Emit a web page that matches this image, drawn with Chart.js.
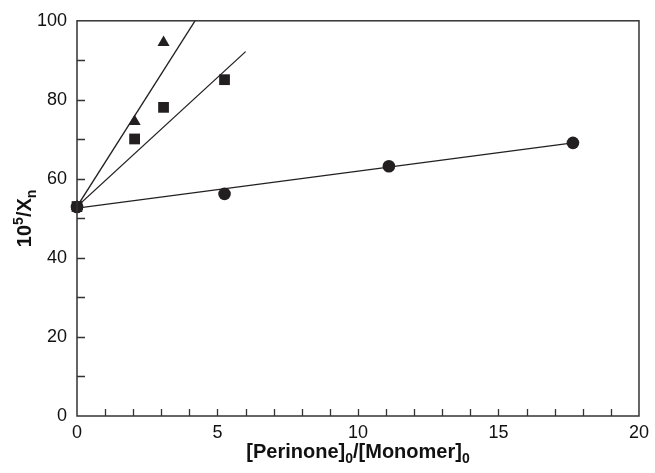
<!DOCTYPE html>
<html>
<head>
<meta charset="utf-8">
<script src="https://cdn.jsdelivr.net/npm/chart.js@4/dist/chart.umd.min.js"></script>
<style>
  body { margin: 0; background: #fff; }
  #wrap { width: 655px; height: 473px; }
</style>
</head>
<body>
<div id="wrap"><canvas id="chart" width="655" height="473"></canvas></div>
<script>
// data
const circleX = [0, 5.25, 11.1, 17.65];
const circleY = [52.9, 56.2, 63.2, 69.1];
const squareX = [0, 2.05, 3.08, 5.25];
const squareY = [53, 70.1, 78.1, 85.1];
const triangleX = [0, 2.05, 3.08];
const triangleY = [53, 74.5, 94.5];

// fitted straight lines (end points)
const circleFitX = [0, 17.65];
const circleFitY = [52.6, 69.1];
const squareFitX = [0, 6.0];
const squareFitY = [53, 92.2];
const triangleFitX = [0, 4.2];
const triangleFitY = [53, 100];

const xMin = 0, xMax = 20, xMajor = 5, xMinor = 1;
const yMin = 0, yMax = 100, yMajor = 20, yMinor = 10;

const ink = "#231f20";
const axisColor = "#333";

function pts(xs, ys) {
    return xs.map((x, i) => ({ x: x, y: ys[i] }));
}

// frame, inner ticks and axis titles with sub/superscripts
const decorPlugin = {
    id: "decor",
    afterDraw(chart) {
        const ctx = chart.ctx;
        const a = chart.chartArea;
        const xs = chart.scales.x;
        const ys = chart.scales.y;
        ctx.save();
        ctx.strokeStyle = axisColor;
        ctx.lineWidth = 1.5;
        ctx.strokeRect(a.left, a.top, a.right - a.left, a.bottom - a.top);

        ctx.lineWidth = 1.3;
        ctx.beginPath();
        for (let v = xMin + xMinor; v < xMax; v += xMinor) {
            const px = Math.round(xs.getPixelForValue(v)) + 0.5;
            ctx.moveTo(px, a.bottom);
            ctx.lineTo(px, a.bottom - 7);
        }
        for (let v = yMin + yMinor; v < yMax; v += yMinor) {
            const py = Math.round(ys.getPixelForValue(v)) + 0.5;
            ctx.moveTo(a.left, py);
            ctx.lineTo(a.left + 8, py);
        }
        ctx.stroke();

        ctx.fillStyle = "#111";
        ctx.textBaseline = "alphabetic";
        const big = "bold 20px 'Liberation Sans', Arial, sans-serif";
        const small = "bold 14px 'Liberation Sans', Arial, sans-serif";

        function drawParts(parts, cx, baseY) {
            let total = 0;
            parts.forEach((p) => {
                ctx.font = p.font;
                p.w = ctx.measureText(p.t).width;
                total += p.w;
            });
            let x = cx - total / 2;
            parts.forEach((p) => {
                ctx.font = p.font;
                ctx.fillText(p.t, x, baseY + p.dy);
                x += p.w;
            });
        }

        // x title
        drawParts([
            { t: "[Perinone]", font: big, dy: 0 },
            { t: "0", font: small, dy: 5 },
            { t: "/[Monomer]", font: big, dy: 0 },
            { t: "0", font: small, dy: 5 },
        ], (a.left + a.right) / 2, 458);

        // y title
        ctx.save();
        ctx.translate(31, (a.top + a.bottom) / 2);
        ctx.rotate(-Math.PI / 2);
        drawParts([
            { t: "10", font: big, dy: 0 },
            { t: "5", font: small, dy: -8 },
            { t: "/X", font: big, dy: 0 },
            { t: "n", font: small, dy: 5 },
        ], 0, 0);
        ctx.restore();
        ctx.restore();
    },
};

const lineStyle = {
    type: "line",
    borderColor: ink,
    borderWidth: 1.3,
    pointRadius: 0,
    fill: false,
    tension: 0,
    order: 2,
};

new Chart(document.getElementById("chart"), {
    type: "scatter",
    data: {
        datasets: [
            { ...lineStyle, label: "circle fit", data: pts(circleFitX, circleFitY) },
            { ...lineStyle, label: "square fit", data: pts(squareFitX, squareFitY) },
            { ...lineStyle, label: "triangle fit", data: pts(triangleFitX, triangleFitY) },
            {
                label: "circle",
                data: pts(circleX, circleY),
                pointStyle: "circle",
                pointRadius: 6.3,
                backgroundColor: ink,
                borderColor: ink,
                borderWidth: 0,
                order: 0,
                clip: false,
            },
            {
                label: "square",
                data: pts(squareX, squareY),
                pointStyle: "rect",
                pointRadius: 7.6,
                backgroundColor: ink,
                borderColor: ink,
                borderWidth: 0,
                order: 0,
                clip: false,
            },
            {
                label: "triangle",
                data: pts(triangleX, triangleY),
                pointStyle: "triangle",
                pointRadius: 7,
                backgroundColor: ink,
                borderColor: ink,
                borderWidth: 0,
                order: 0,
                clip: false,
            },
        ],
    },
    options: {
        responsive: false,
        animation: false,
        layout: { padding: { top: 20, right: 12, left: 0, bottom: 0 } },
        plugins: {
            legend: { display: false },
            tooltip: { enabled: false },
        },
        scales: {
            x: {
                type: "linear",
                min: xMin,
                max: xMax,
                afterFit: (scale) => { scale.height = 57; },
                grid: { display: false, drawTicks: false },
                border: { display: false },
                ticks: {
                    stepSize: xMajor,
                    padding: 6,
                    color: "#111",
                    font: { family: "'Liberation Sans', Arial, sans-serif", size: 18 },
                },
            },
            y: {
                type: "linear",
                min: yMin,
                max: yMax,
                afterFit: (scale) => { scale.width = 77; },
                grid: { display: false, drawTicks: false },
                border: { display: false },
                ticks: {
                    stepSize: yMajor,
                    padding: 10,
                    color: "#111",
                    font: { family: "'Liberation Sans', Arial, sans-serif", size: 18 },
                },
            },
        },
    },
    plugins: [decorPlugin],
});
</script>
</body>
</html>
